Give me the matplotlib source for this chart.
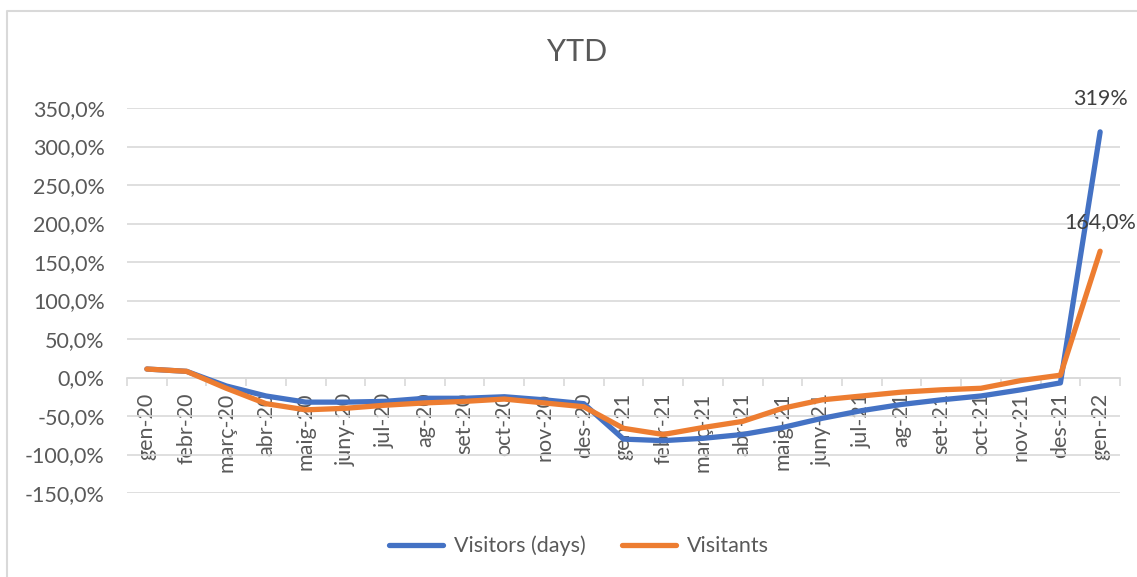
import matplotlib.pyplot as plt
from matplotlib.lines import Line2D

# data
months = ["gen-20", "febr-20", "març-20", "abr-20", "maig-20", "juny-20", "jul-20",
          "ag-20", "set-20", "oct-20", "nov-20", "des-20", "gen-21", "febr-21",
          "març-21", "abr-21", "maig-21", "juny-21", "jul-21", "ag-21", "set-21",
          "oct-21", "nov-21", "des-21", "gen-22"]

visitors_days = [11, 8, -11, -24, -32, -32, -31, -27, -27, -25, -29, -34,
                 -80, -82, -79, -74, -65, -53, -43, -35, -29, -24, -16, -7, 319]

visitants = [11, 8, -14, -34, -42, -40, -36, -33, -31, -28, -33, -38,
             -66, -74, -65, -57, -40, -29, -24, -19, -16, -14, -4, 3, 164]

y_ticks = [-150, -100, -50, 0, 50, 100, 150, 200, 250, 300, 350]

blue = "#4472C4"
orange = "#ED7D31"
grid_col = "#D9D9D9"
txt_col = "#595959"

plt.rcParams["font.family"] = ["Lato", "DejaVu Sans"]

fig = plt.figure(figsize=(11.37, 5.77), dpi=100)
ax = fig.add_axes([127/1137, 1 - 493/577, (1120 - 127)/1137, (493 - 108)/577])

x = list(range(len(months)))
ax.plot(x, visitors_days, color=blue, lw=3.8, solid_capstyle="round",
        solid_joinstyle="round", label="Visitors (days)", zorder=3)
ax.plot(x, visitants, color=orange, lw=3.8, solid_capstyle="round",
        solid_joinstyle="round", label="Visitants", zorder=3)

# data labels on last point
ax.annotate("319%", (x[-1], visitors_days[-1]), xytext=(0, 24),
            textcoords="offset points", ha="center", va="center",
            fontsize=15.5, color="#404040")
ax.annotate("164,0%", (x[-1], visitants[-1]), xytext=(0, 21),
            textcoords="offset points", ha="center", va="center",
            fontsize=15.5, color="#404040")

ax.set_xlim(-0.5, len(months) - 0.5)
ax.set_ylim(-150, 350)

ax.set_yticks(y_ticks)
ax.set_yticklabels([f"{v:.1f}".replace(".", ",") + "%" for v in y_ticks])
ax.yaxis.grid(True, color=grid_col, lw=1.2)
ax.set_axisbelow(True)

for s in ["top", "right", "left"]:
    ax.spines[s].set_visible(False)
ax.spines["bottom"].set_position(("data", 0))
ax.spines["bottom"].set_color(grid_col)
ax.spines["bottom"].set_linewidth(1.2)

ax.set_xticks(x)
ax.set_xticklabels(months, rotation=90, va="top", ha="center")
ax.set_xticks([i - 0.5 for i in range(len(months) + 1)], minor=True)
ax.tick_params(axis="x", which="major", length=0, pad=11,
               labelsize=15.5, labelcolor=txt_col)
ax.tick_params(axis="x", which="minor", length=6, color=grid_col, width=1.2)
ax.tick_params(axis="y", length=0, pad=16, labelsize=15.5, labelcolor=txt_col)

fig.text(577/1137, 1 - 52/577, "YTD", ha="center", va="center",
         fontsize=22, color=txt_col)

fig.legend(loc="center", bbox_to_anchor=(579/1137, 1 - 546/577), ncol=2,
           frameon=False, fontsize=15.5, labelcolor=txt_col,
           handlelength=2.5, columnspacing=1.7, handletextpad=0.5)

# chart border (left and top visible)
fig.add_artist(Line2D([7/1137, 7/1137, 1], [0, 1 - 11/577, 1 - 11/577],
                      transform=fig.transFigure, color=grid_col, lw=1.5))

fig.savefig("out.png", dpi=100)
